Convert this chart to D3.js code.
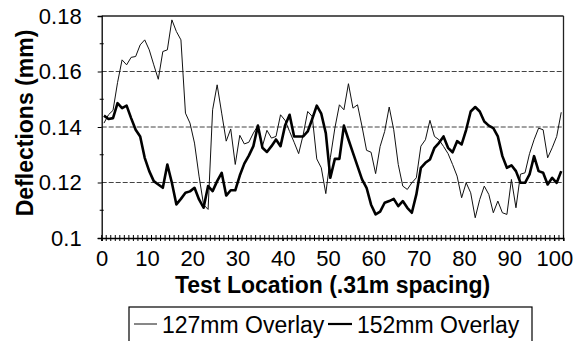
<!DOCTYPE html>
<html>
<head>
<meta charset="utf-8">
<script src="https://cdn.jsdelivr.net/npm/d3@7/dist/d3.min.js"></script>
<style>
  html, body { margin: 0; padding: 0; background: #fff; }
  svg { display: block; font-family: "Liberation Sans", Arial, sans-serif; }
</style>
</head>
<body>
<svg id="chart" width="587" height="341"></svg>
<script>
// ---- data ----
const seriesNames = ["127mm Overlay", "152mm Overlay"];
const overlay127 = [
  0.1414, 0.1444, 0.1460, 0.1560, 0.1642, 0.1624, 0.1651, 0.1654, 0.1696, 0.1714,
  0.1678, 0.1624, 0.1572, 0.1672, 0.1678, 0.1786, 0.1744, 0.1714, 0.1450, 0.1414,
  0.1342, 0.1223, 0.1120, 0.1103, 0.1462, 0.1552, 0.1450, 0.1349, 0.1393, 0.1265,
  0.1370, 0.1339, 0.1345, 0.1378, 0.1405, 0.1331, 0.1388, 0.1360, 0.1366, 0.1444,
  0.1424, 0.1384, 0.1345, 0.1304, 0.1372, 0.1456, 0.1438, 0.1285, 0.1253, 0.1160,
  0.1289, 0.1396, 0.1480, 0.1462, 0.1556, 0.1468, 0.1480, 0.1402, 0.1316, 0.1309,
  0.1232, 0.1330, 0.1384, 0.1472, 0.1390, 0.1265, 0.1187, 0.1175, 0.1199, 0.1217,
  0.1331, 0.1354, 0.1424, 0.1366, 0.1354, 0.1330, 0.1304, 0.1265, 0.1223, 0.1145,
  0.1199, 0.1163, 0.1073, 0.1139, 0.1187, 0.1157, 0.1091, 0.1133, 0.1091, 0.1085,
  0.1211, 0.1109, 0.1230, 0.1235, 0.1304, 0.1354, 0.1396, 0.1390, 0.1289, 0.1325,
  0.1366, 0.1453
];
const overlay152 = [
  0.1441, 0.1429, 0.1432, 0.1486, 0.1468, 0.1477, 0.1432, 0.1390, 0.1366, 0.1289,
  0.1241, 0.1205, 0.1193, 0.1181, 0.1265, 0.1199, 0.1121, 0.1141, 0.1163, 0.1168,
  0.1181, 0.1139, 0.1109, 0.1187, 0.1169, 0.1205, 0.1235, 0.1153, 0.1172, 0.1172,
  0.1225, 0.1268, 0.1297, 0.1331, 0.1405, 0.1325, 0.1310, 0.1331, 0.1355, 0.1331,
  0.1405, 0.1444, 0.1366, 0.1366, 0.1366, 0.1384, 0.1429, 0.1477, 0.1448, 0.1378,
  0.1217, 0.1285, 0.1285, 0.1405, 0.1355, 0.1307, 0.1259, 0.1211, 0.1181, 0.1120,
  0.1085, 0.1095, 0.1127, 0.1133, 0.1141, 0.1115, 0.1133, 0.1109, 0.1091, 0.1157,
  0.1253, 0.1271, 0.1283, 0.1325, 0.1343, 0.1366, 0.1325, 0.1309, 0.1349, 0.1337,
  0.1390, 0.1456, 0.1472, 0.1456, 0.1420, 0.1405, 0.1396, 0.1366, 0.1295, 0.1253,
  0.1262, 0.1241, 0.1199, 0.1199, 0.1229, 0.1295, 0.1241, 0.1235, 0.1193, 0.1217,
  0.1199, 0.1241
];
const xTickLabels = [0, 10, 20, 30, 40, 50, 60, 70, 80, 90, 100];
const yTickLabels = [0.10, 0.12, 0.14, 0.16, 0.18];
const yMinorTicks = [0.11, 0.13, 0.15, 0.17];
const xTitle = "Test Location (.31m spacing)";
const yTitle = "Deflections (mm)";

// ---- layout ----
const L = 101.7, R = 563.5, T = 16, B = 238;
const svg = d3.select("#chart");
const x = d3.scaleLinear().domain([0, 102]).range([L, R]);
const y = d3.scaleLinear().domain([0.10, 0.18]).range([B, T]);

// gridlines
svg.append("g").selectAll("line")
  .data(yTickLabels.filter(v => v > 0.105 && v < 0.175))
  .join("line")
  .attr("x1", L).attr("x2", R)
  .attr("y1", d => y(d)).attr("y2", d => y(d))
  .attr("stroke", "#444").attr("stroke-width", 1)
  .attr("stroke-dasharray", "5,2");

// frame (top & right)
svg.append("line").attr("x1", L).attr("x2", R).attr("y1", y(0.18)).attr("y2", y(0.18))
  .attr("stroke", "#222").attr("stroke-width", 1.3);
svg.append("line").attr("x1", R).attr("x2", R).attr("y1", T).attr("y2", B)
  .attr("stroke", "#222").attr("stroke-width", 1.3);

// y axis
const yAxis = d3.axisLeft(y)
  .tickValues(yTickLabels)
  .tickSize(4)
  .tickPadding(16)
  .tickFormat(d => d === 0.10 ? "0.1" : d3.format(".2f")(d));
const gy = svg.append("g").attr("transform", `translate(${L},0)`).call(yAxis);
gy.select(".domain").attr("stroke", "#000").attr("stroke-width", 1.3);
gy.selectAll(".tick line").attr("stroke", "#000");
gy.selectAll("text").attr("font-size", 22).attr("fill", "#000")
  .attr("font-family", "Liberation Sans, Arial, sans-serif");
svg.append("g").selectAll("line").data(yMinorTicks).join("line")
  .attr("x1", L - 2).attr("x2", L + 2)
  .attr("y1", d => y(d)).attr("y2", d => y(d))
  .attr("stroke", "#000");

// x axis
const xAxis = d3.axisBottom(x)
  .tickValues(xTickLabels)
  .tickSize(3)
  .tickPadding(9)
  .tickFormat(d3.format("d"));
const gx = svg.append("g").attr("transform", `translate(0,${B})`).call(xAxis);
gx.select(".domain").attr("stroke", "#000").attr("stroke-width", 1.3);
gx.selectAll(".tick line").attr("stroke", "#000");
gx.selectAll("text").attr("font-size", 22).attr("fill", "#000")
  .attr("font-family", "Liberation Sans, Arial, sans-serif");
svg.append("g").selectAll("line").data(d3.range(0, 103)).join("line")
  .attr("x1", d => x(d)).attr("x2", d => x(d))
  .attr("y1", B - 3).attr("y2", B + 3)
  .attr("stroke", "#000").attr("stroke-width", 1);

// series lines
const line = d3.line().x((d, i) => x(i + 0.5)).y(d => y(d));
svg.append("path").datum(overlay127).attr("d", line)
  .attr("fill", "none").attr("stroke", "#111").attr("stroke-width", 1)
  .attr("stroke-linejoin", "round");
svg.append("path").datum(overlay152).attr("d", line)
  .attr("fill", "none").attr("stroke", "#000").attr("stroke-width", 2.6)
  .attr("stroke-linejoin", "round");

// titles
svg.append("text").text(xTitle)
  .attr("x", (L + R) / 2).attr("y", 293)
  .attr("text-anchor", "middle").attr("font-weight", "bold").attr("font-size", 23);
svg.append("text").text(yTitle)
  .attr("transform", `translate(33,${(T + B) / 2 - 4}) rotate(-90)`)
  .attr("text-anchor", "middle").attr("font-weight", "bold").attr("font-size", 23);

// legend
const lg = svg.append("g");
lg.append("rect").attr("x", 129).attr("y", 307).attr("width", 403).attr("height", 45)
  .attr("fill", "#fff").attr("stroke", "#000").attr("stroke-width", 1.2);
lg.append("line").attr("x1", 134).attr("x2", 157).attr("y1", 324).attr("y2", 324)
  .attr("stroke", "#111").attr("stroke-width", 1);
lg.append("text").text(seriesNames[0]).attr("x", 162).attr("y", 333).attr("font-size", 23);
lg.append("line").attr("x1", 328).attr("x2", 352).attr("y1", 324).attr("y2", 324)
  .attr("stroke", "#000").attr("stroke-width", 2.2);
lg.append("text").text(seriesNames[1]).attr("x", 357).attr("y", 333).attr("font-size", 23);
</script>
</body>
</html>
